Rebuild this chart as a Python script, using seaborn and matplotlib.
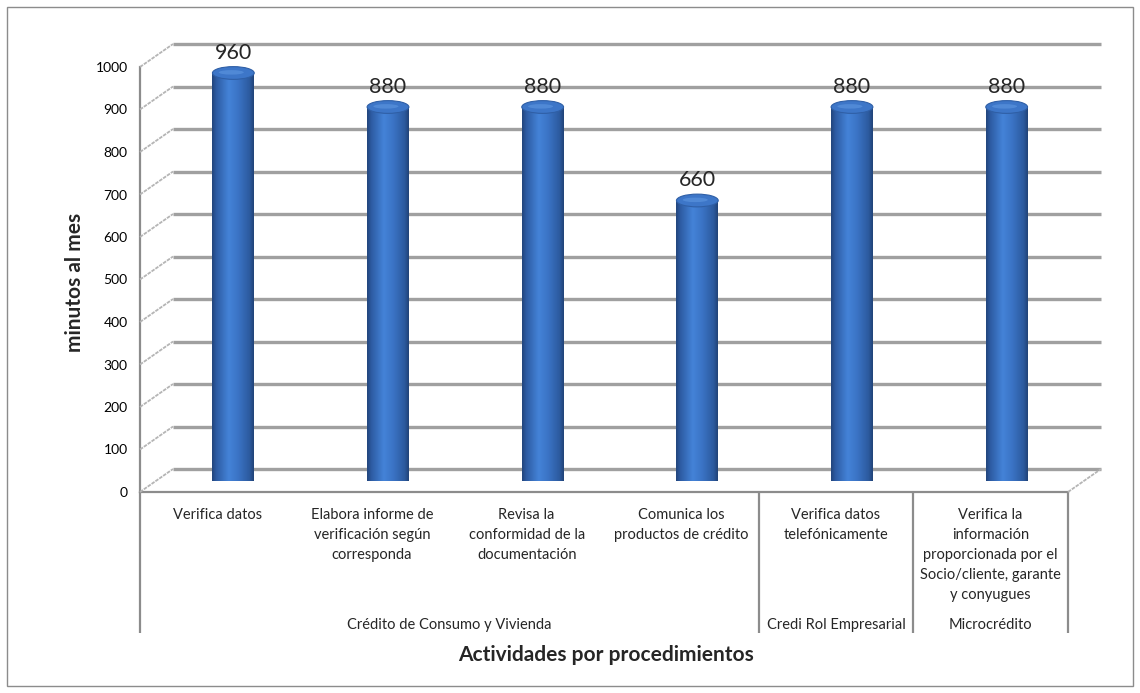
import numpy as np
import pandas as pd
import matplotlib
matplotlib.use("Agg")
import matplotlib.pyplot as plt
import seaborn as sns
from matplotlib.colors import LinearSegmentedColormap
from matplotlib.patches import Ellipse, Rectangle
from matplotlib.transforms import ScaledTranslation, blended_transform_factory

# ---- data -------------------------------------------------------------
activities = [
    "Verifica datos",
    "Elabora informe de\nverificación según\ncorresponda",
    "Revisa la\nconformidad de la\ndocumentación",
    "Comunica los\nproductos de crédito",
    "Verifica datos\ntelefónicamente",
    "Verifica la\ninformación\nproporcionada por el\nSocio/cliente, garante\ny conyugues",
]
minutes = [960, 880, 880, 660, 880, 880]
groups = ["Crédito de Consumo y Vivienda", "Credi Rol Empresarial", "Microcrédito"]
group_sizes = [4, 1, 1]
y_ticks = list(range(0, 1001, 100))

df = pd.DataFrame({"actividad": activities, "minutos": minutes})

# ---- figure ----------------------------------------------------------
W, H, DPI = 1140, 693, 100
sns.set_theme(style="white")
plt.rcParams["font.family"] = ["Lato", "DejaVu Sans"]

fig = plt.figure(figsize=(W / DPI, H / DPI), dpi=DPI)
fig.patch.set_facecolor("white")


def fy(px):
    return 1 - px / H


def fx(px):
    return px / W


x_left, x_right = 140, 1068
y_zero, y_top = 492, 67
ax = fig.add_axes([fx(x_left), fy(y_zero), fx(x_right - x_left), (y_zero - y_top) / H])
ax.set_xlim(-0.5, len(activities) - 0.5)
ax.set_ylim(0, 1000)
ax.patch.set_alpha(0)

# back wall gridlines, shifted into depth
depth = np.array([33, 23])
back = ax.transData + ScaledTranslation(depth[0] / DPI, depth[1] / DPI, fig.dpi_scale_trans)
for t in y_ticks:
    ax.plot([-0.5, len(activities) - 0.5], [t, t], transform=back,
            color="#a0a0a0", lw=2.4, clip_on=False, zorder=1, solid_capstyle="butt")

# diagonal edges of the side wall and the floor
to_fig = fig.transFigure.inverted()
edge_points = [(-0.5, t) for t in y_ticks] + [(len(activities) - 0.5, 0)]
for pt in edge_points:
    p0 = ax.transData.transform(pt)
    a, b = to_fig.transform(p0), to_fig.transform(p0 + depth)
    fig.add_artist(plt.Line2D([a[0], b[0]], [a[1], b[1]], color="#b5b5b5", lw=1.3,
                              ls=(0, (2, 0.6)), zorder=1))

# axis styling
for s in ["top", "right"]:
    ax.spines[s].set_visible(False)
for s in ["left", "bottom"]:
    ax.spines[s].set_color("#8c8c8c")
    ax.spines[s].set_linewidth(1.6)
ax.set_yticks(y_ticks)
ax.set_yticklabels([str(t) for t in y_ticks], fontsize=10)
ax.tick_params(axis="y", direction="out", length=5, width=1, color="#8c8c8c",
               pad=4, labelcolor="black")
ax.set_xticks([])

# ---- bars (cylinders) -------------------------------------------------
bx = fig.add_axes([fx(x_left + 16), fy(y_zero - 11), fx(x_right - x_left), (y_zero - y_top) / H])
sns.barplot(data=df, x="actividad", y="minutos", ax=bx, width=0.27,
            color="#3468b4", saturation=1, edgecolor="none")
bx.set_xlim(-0.5, len(activities) - 0.5)
bx.set_ylim(0, 1000)
bx.axis("off")
bx.patch.set_alpha(0)

cyl = LinearSegmentedColormap.from_list(
    "cyl", [(0, "#22447a"), (0.1, "#2d5ba2"), (0.4, "#4483d8"),
            (0.62, "#3b74c6"), (0.9, "#2c5a9e"), (1, "#214276")])
grad = np.linspace(0, 1, 256).reshape(1, -1)
cap_h = 30
for bar, v in zip(bx.patches, minutes):
    x0, w = bar.get_x(), bar.get_width()
    bar.set_alpha(0)
    im = bx.imshow(grad, cmap=cyl, aspect="auto", extent=[x0, x0 + w, 0, v],
                   zorder=3, interpolation="bicubic")
    im.set_clip_path(Rectangle((x0, 0), w, v, transform=bx.transData))
    im2 = bx.imshow(grad, cmap=cyl, aspect="auto",
                    extent=[x0, x0 + w, -cap_h, 0], zorder=3, interpolation="bicubic")
    im2.set_clip_path(Ellipse((x0 + w / 2, 0), w, cap_h, transform=bx.transData))
    top = Ellipse((x0 + w / 2, v), w, cap_h, transform=bx.transData,
                  facecolor="#3d76c8", edgecolor="#2f5fa6", lw=0.8, zorder=4,
                  clip_on=False)
    bx.add_patch(top)
    hl = Ellipse((x0 + w * 0.45, v + cap_h * 0.05), w * 0.6, cap_h * 0.35,
                 transform=bx.transData, facecolor="#5e97e0", edgecolor="none",
                 alpha=0.6, zorder=5, clip_on=False)
    bx.add_patch(hl)
    bx.annotate(str(v), (x0 + w / 2, v), xytext=(0, 10), textcoords="offset pixels",
                ha="center", va="bottom", fontsize=15.5, zorder=6)

# ---- category table under the axis ------------------------------------
lab = blended_transform_factory(ax.transData, fig.transFigure)
for i, name in enumerate(activities):
    ax.text(i, fy(508), name, transform=lab, ha="center", va="top",
            fontsize=10.5, linespacing=1.55)
edges = np.cumsum([0] + group_sizes) - 0.5
for e in edges:
    ax.plot([e, e], [fy(492), fy(633)], transform=lab, color="#8c8c8c", lw=1.6,
            clip_on=False, solid_capstyle="butt")
for g, a0, a1 in zip(groups, edges[:-1], edges[1:]):
    ax.text((a0 + a1) / 2, fy(625), g, transform=lab, ha="center", va="center",
            fontsize=10.5)

# axis titles
fig.text(fx(606), fy(655), "Actividades por procedimientos", ha="center",
         va="center", fontsize=15, fontweight="bold")
fig.text(fx(75), fy(282), "minutos al mes", ha="center", va="center",
         rotation=90, fontsize=15, fontweight="bold")

# chart frame
fig.add_artist(Rectangle((fx(7), fy(686)), fx(1126), (686 - 7) / H,
                         transform=fig.transFigure, fill=False,
                         edgecolor="#8c8c8c", lw=1))

fig.savefig("out.png", dpi=DPI)
